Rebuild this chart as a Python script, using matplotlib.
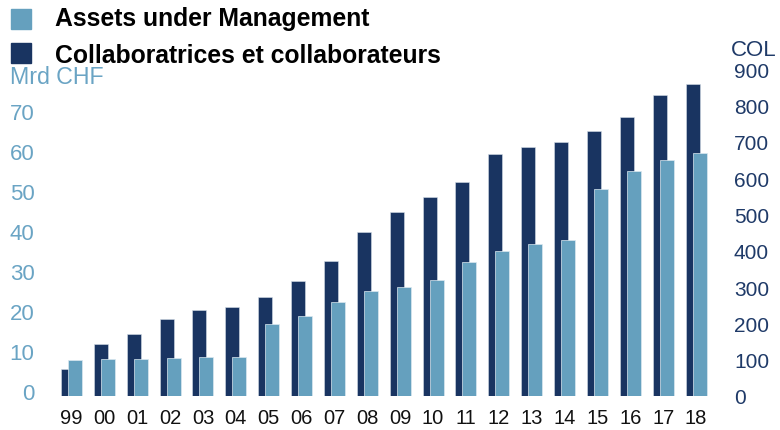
import matplotlib
matplotlib.use("Agg")
import matplotlib.pyplot as plt
import matplotlib.transforms as mtransforms
from matplotlib.patches import Rectangle
import numpy as np

years = ["99", "00", "01", "02", "03", "04", "05", "06", "07", "08",
         "09", "10", "11", "12", "13", "14", "15", "16", "17", "18"]
aum_bn = [9.0, 9.2, 9.3, 9.5, 9.7, 9.8, 18.1, 19.9, 23.5, 26.3,
          27.2, 29.0, 33.5, 36.3, 38.1, 39.0, 51.7, 56.3, 58.9, 60.8]
employees = [75, 143, 172, 213, 237, 244, 273, 316, 372, 452,
             506, 547, 588, 665, 686, 699, 729, 769, 828, 859]
left_ticks = [0, 10, 20, 30, 40, 50, 60, 70]
right_ticks = [0, 100, 200, 300, 400, 500, 600, 700, 800, 900]

DARK = "#193461"
LIGHT = "#65a0be"
LBL_LIGHT = "#6aa4c4"
LBL_DARK = "#1f3a68"

W, H = 780, 431
fig = plt.figure(figsize=(W / 100, H / 100), dpi=100)
plt.rcParams['font.family'] = ['Liberation Sans', 'DejaVu Sans']

ax_l, ax_r, ax_b, ax_t = 40, 720, 397, 70
ax = fig.add_axes([ax_l / W, (H - ax_b) / H, (ax_r - ax_l) / W, (ax_b - ax_t) / H])
ax2 = ax.twinx()

step = 32.87
x = np.arange(len(years))
ax.set_xlim((ax_l - 71.5) / step, (ax_r - 71.5) / step)
bw = 14 / step
off = 3.5 / step

ax2.set_ylim(0, (ax_b - ax_t) / 0.3633)
ax.set_ylim(0, (ax_b - ax_t) / 4.0)

# dark bars (right axis) behind light bars (left axis)
ax2.set_zorder(0)
ax.set_zorder(1)
ax.patch.set_visible(False)
ax2.bar(x - off, employees, width=bw, color=DARK, edgecolor="#d5dee8", linewidth=0.4)
ax.bar(x + off, aum_bn, width=bw, color=LIGHT, edgecolor="#dbe8f0", linewidth=0.5)

for a in (ax, ax2):
    for s in a.spines.values():
        s.set_visible(False)
    a.tick_params(length=0)

ax.set_xticks(x)
ax.set_xticklabels(years, fontsize=14.5, color="#111111")
ax.tick_params(axis='x', pad=9)

ax.set_yticks(left_ticks)
ax.set_yticklabels([str(v) for v in left_ticks], fontsize=16, color=LBL_LIGHT)
ax.tick_params(axis='y', pad=4)
shift = mtransforms.ScaledTranslation(0, 5 / 100, fig.dpi_scale_trans)
for lab in ax.get_yticklabels():
    lab.set_transform(lab.get_transform() + shift)

ax2.set_yticks(right_ticks)
ax2.set_yticklabels([str(v) for v in right_ticks], fontsize=15, color=LBL_DARK)
ax2.tick_params(axis='y', pad=10)

fig.text(10 / W, 1 - 78 / H, "Mrd CHF", fontsize=16.7, color=LBL_LIGHT, va="center", ha="left")
fig.text(731 / W, 1 - 50 / H, "COL", fontsize=16, color=LBL_DARK, va="center", ha="left")

# legend
fig.patches.append(Rectangle((11 / W, 1 - 30 / H), 20 / W, 20 / H, transform=fig.transFigure,
                             color=LIGHT, figure=fig))
fig.patches.append(Rectangle((11 / W, 1 - 64 / H), 20 / W, 20 / H, transform=fig.transFigure,
                             color=DARK, figure=fig))
fig.text(55 / W, 1 - 19 / H, "Assets under Management", fontsize=17.8, fontweight="bold",
         color="black", va="center", ha="left")
fig.text(55 / W, 1 - 56 / H, "Collaboratrices et collaborateurs", fontsize=17.8, fontweight="bold",
         color="black", va="center", ha="left")

fig.savefig("out.png", dpi=100)
